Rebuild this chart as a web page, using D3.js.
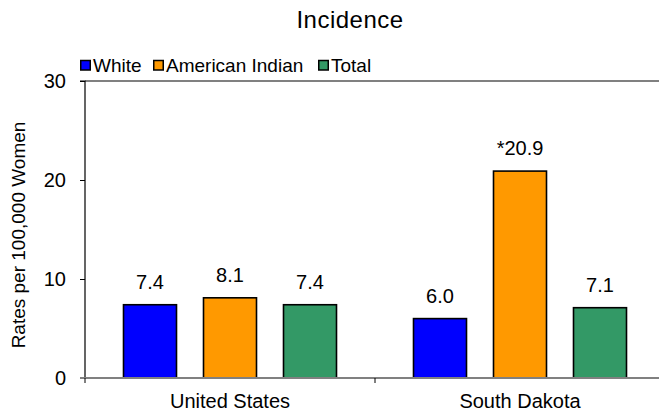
<!DOCTYPE html>
<html><head><meta charset="utf-8">
<script src="https://cdn.jsdelivr.net/npm/d3@7"></script>
<style>body{margin:0;background:#fff}svg{display:block}text{font-family:"Liberation Sans",Arial,sans-serif;fill:#000}</style>
</head><body><svg id="c" width="659" height="416"></svg>
<script>
const categories = ["United States", "South Dakota"];
const seriesNames = ["White", "American Indian", "Total"];
const white = [7.4, 6.0];
const americanIndian = [8.1, 20.9];
const total = [7.4, 7.1];
const valueLabels = [["7.4","8.1","7.4"],["6.0","*20.9","7.1"]];
const yTicks = [0, 10, 20, 30];
const colors = ["#0000FF", "#FF9900", "#339966"];

const FONT = "Liberation Sans, Arial, sans-serif";
const svg = d3.select("#c");
const m = {l:85, t:81, r:-6, b:38};
const W = 659, H = 416;
const x0 = d3.scaleBand().domain(categories).range([m.l, W - m.r]).paddingInner(0).paddingOuter(0);
const x1 = d3.scaleBand().domain(seriesNames).range([0, x0.bandwidth()]).paddingInner(27/80).paddingOuter(0.48125);
const y = d3.scaleLinear().domain([0, 30]).range([H - m.b, m.t]);

// top border
svg.append("line").attr("x1", m.l).attr("x2", W).attr("y1", y(30)).attr("y2", y(30)).attr("stroke", "#808080").attr("stroke-width", 2);

const data = categories.map((c, i) => ({c, vals: [white[i], americanIndian[i], total[i]]}));
const g = svg.append("g");
data.forEach((d, i) => {
  d.vals.forEach((v, j) => {
    const s = seriesNames[j];
    g.append("rect").attr("x", x0(d.c) + x1(s)).attr("y", y(v)).attr("width", x1.bandwidth()).attr("height", y(0) - y(v))
      .attr("fill", colors[j]).attr("stroke", "#000").attr("stroke-width", 1.6);
    g.append("text").attr("x", x0(d.c) + x1(s) + x1.bandwidth()/2).attr("y", y(v) - 16).attr("text-anchor", "middle")
      .attr("font-size", 20).text(valueLabels[i][j]);
  });
});

// y axis
const ya = svg.append("g").attr("transform", `translate(${m.l},0)`).call(d3.axisLeft(y).tickValues(yTicks).tickSize(5).tickPadding(14));
ya.select(".domain").attr("stroke", "#000").attr("stroke-width", 1.2).attr("d", `M-5,${y(30)}H0V${y(0)}`);
ya.selectAll(".tick line").attr("stroke", "#000");
ya.selectAll(".tick text").attr("font-size", 20).attr("font-family", FONT).attr("fill", "#000");

// x axis
svg.append("line").attr("x1", m.l - 5).attr("x2", W).attr("y1", y(0)).attr("y2", y(0)).attr("stroke", "#808080").attr("stroke-width", 2);
const xa = svg.append("g").attr("transform", `translate(0,${y(0)})`).call(d3.axisBottom(x0).tickSize(0).tickPadding(16));
xa.select(".domain").remove();
xa.selectAll(".tick text").attr("font-size", 20).attr("font-family", FONT).attr("fill", "#000");
[m.l, x0(categories[1])].forEach(px => svg.append("line").attr("x1", px).attr("x2", px).attr("y1", y(0)).attr("y2", y(0) + 5).attr("stroke", "#000"));

// title
svg.append("text").attr("x", 350).attr("y", 28).attr("text-anchor", "middle").attr("font-size", 24).attr("letter-spacing", 0.5).text("Incidence");
// y title
svg.append("text").attr("transform", `translate(25,235) rotate(-90)`).attr("text-anchor", "middle").attr("font-size", 19).text("Rates per 100,000 Women");

// legend
const lx = [80, 153, 318];
seriesNames.forEach((s, j) => {
  svg.append("rect").attr("x", lx[j] + 0.75).attr("y", 60.5).attr("width", 9.5).attr("height", 9.5).attr("fill", colors[j]).attr("stroke", "#000").attr("stroke-width", 1.5);
  svg.append("text").attr("x", lx[j] + 13).attr("y", 72).attr("font-size", 19).text(s);
});
</script></body></html>
